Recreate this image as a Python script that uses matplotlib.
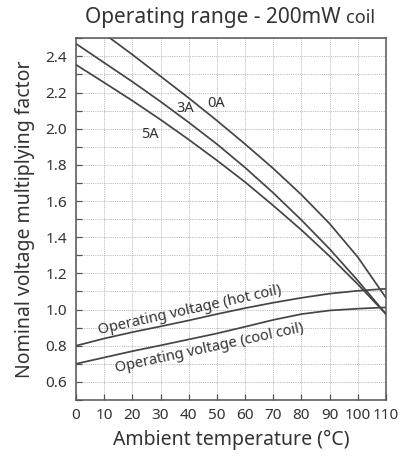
import matplotlib
matplotlib.use("Agg")
import matplotlib.pyplot as plt
from matplotlib.ticker import MultipleLocator

# ---- data ----
temps = [0, 10, 20, 30, 40, 50, 60, 70, 80, 90, 100, 110]
curve_0A = [2.64, 2.525, 2.41, 2.29, 2.17, 2.045, 1.915, 1.78, 1.635, 1.475, 1.29, 1.065]
curve_3A = [2.47, 2.365, 2.26, 2.15, 2.035, 1.915, 1.785, 1.645, 1.495, 1.335, 1.16, 0.975]
curve_5A = [2.354, 2.255, 2.155, 2.05, 1.94, 1.825, 1.705, 1.575, 1.44, 1.295, 1.14, 0.975]
hot_coil = [0.80, 0.84, 0.875, 0.907, 0.94, 0.975, 1.008, 1.038, 1.065, 1.088, 1.104, 1.115]
cool_coil = [0.70, 0.735, 0.77, 0.802, 0.835, 0.868, 0.905, 0.943, 0.975, 0.995, 1.005, 1.012]

x_ticks = [0, 10, 20, 30, 40, 50, 60, 70, 80, 90, 100, 110]
y_ticks = [0.6, 0.8, 1.0, 1.2, 1.4, 1.6, 1.8, 2.0, 2.2, 2.4]

plt.rcParams['font.family'] = ['Noto Sans', 'DejaVu Sans']
TXT = '#333333'
LINE = '#454545'

fig = plt.figure(figsize=(4.06, 4.57), dpi=100)
ax = fig.add_axes([76/406, 1-400/457, (386-76)/406, (400-38.3)/457])

for series in (curve_0A, curve_3A, curve_5A, hot_coil, cool_coil):
    ax.plot(temps, series, color=LINE, lw=1.25, solid_joinstyle='round')

ax.set_xlim(0, 110)
ax.set_ylim(0.5, 2.5)
ax.set_xticks(x_ticks)
ax.set_yticks(y_ticks)
ax.set_yticklabels([f"{v:.1f}" for v in y_ticks])
ax.yaxis.set_minor_locator(MultipleLocator(0.1))
ax.grid(True, which='both', axis='y', color='#a8a8a8', ls=(0, (1, 1.2)), lw=0.6)
ax.grid(True, which='major', axis='x', color='#a8a8a8', ls=(0, (1, 1.2)), lw=0.6)
ax.set_axisbelow(True)
ax.tick_params(axis='both', which='both', direction='in', length=4, width=0.9,
               color='#555555', labelcolor=TXT, labelsize=11)
ax.tick_params(axis='y', which='major', pad=6.5)
ax.tick_params(axis='x', which='major', pad=6)
for sp in ax.spines.values():
    sp.set_color('#555555')
    sp.set_linewidth(1.1)

ax.set_xlabel("Ambient temperature (°C)", fontsize=14, color=TXT, labelpad=5)
ax.set_ylabel("Nominal voltage multiplying factor", fontsize=14, color=TXT, labelpad=7)

# curve labels
ax.text(49.7, 2.14, "0A", fontsize=10.5, color=TXT, ha='center', va='center')
ax.text(38.9, 2.11, "3A", fontsize=10.5, color=TXT, ha='center', va='center')
ax.text(26.1, 1.97, "5A", fontsize=10.5, color=TXT, ha='center', va='center')
ax.text(40.3, 0.995, "Operating voltage (hot coil)", fontsize=10.5, color=TXT,
        ha='center', va='center', rotation=12.5, rotation_mode='anchor')
ax.text(47.5, 0.785, "Operating voltage (cool coil)", fontsize=10.5, color=TXT,
        ha='center', va='center', rotation=12.2, rotation_mode='anchor')

# title (with smaller "coil")
ty = 1 - 23/457
t1 = fig.text(0, ty, "Operating range - 200mW ", fontsize=15, color=TXT,
              ha='left', va='baseline')
t2 = fig.text(0, ty, "coil", fontsize=13, color=TXT, ha='left', va='baseline')
fig.canvas.draw()
r = fig.canvas.get_renderer()
w1 = t1.get_window_extent(r).width
w2 = t2.get_window_extent(r).width
x0 = 230 - (w1 + w2) / 2
t1.set_x(x0/406)
t2.set_x((x0 + w1)/406)

fig.savefig("out.png", dpi=100)
